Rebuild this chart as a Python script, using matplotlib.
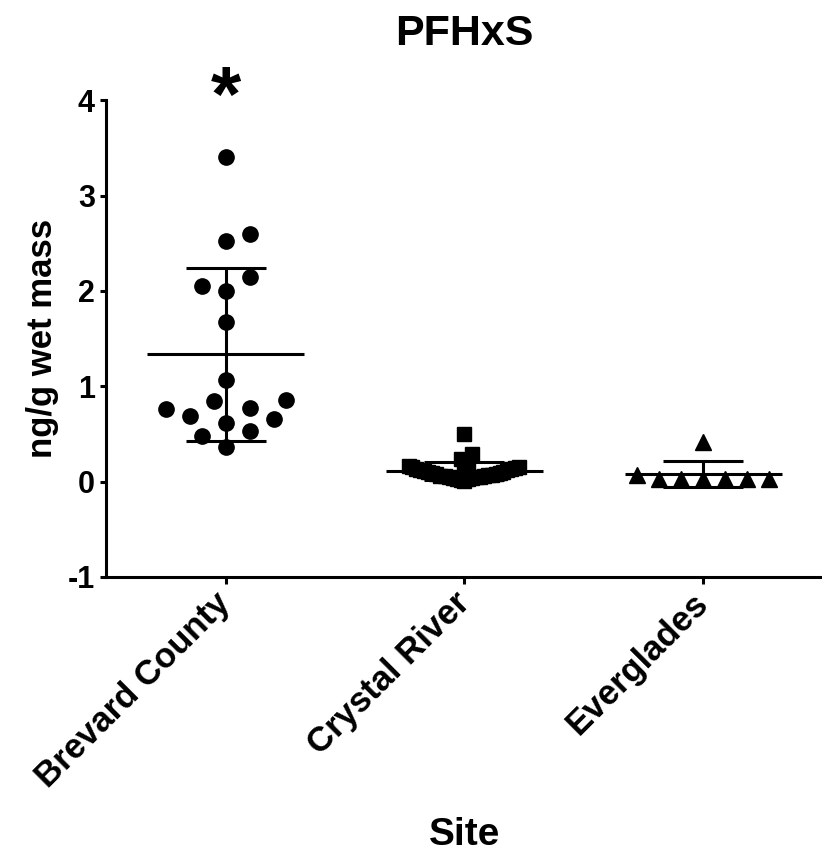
import numpy as np
import matplotlib
matplotlib.use("Agg")
import matplotlib.pyplot as plt

plt.rcParams['font.family'] = ['Liberation Sans', 'DejaVu Sans']
plt.rcParams['font.weight'] = 'bold'
plt.rcParams['axes.unicode_minus'] = False

sites = ['Brevard County', 'Crystal River', 'Everglades']
markers = ['o', 's', '^']

brevard = [3.40, 2.60, 2.52, 2.15, 2.00, 2.05, 1.67, 1.07, 0.84, 0.86,
           0.76, 0.77, 0.66, 0.69, 0.61, 0.53, 0.48, 0.36]
crystal = [0.50, 0.29, 0.24, 0.20, 0.18, 0.16, 0.15, 0.15, 0.14, 0.13,
           0.13, 0.12, 0.12, 0.11, 0.10, 0.10, 0.09, 0.09, 0.08, 0.08,
           0.07, 0.07, 0.06, 0.06, 0.06, 0.05, 0.05, 0.05, 0.04, 0.04,
           0.03, 0.03, 0.02, 0.01]
everglades = [0.42, 0.07, 0.03, 0.03, 0.03, 0.03, 0.03, 0.03]
groups = [brevard, crystal, everglades]


def swarm(ax, x0, vals, wx, wy, step, left_first):
    # greedy beeswarm in pixel space, elliptical keep-out zone
    vals = np.asarray(vals)
    order = np.argsort(vals, kind='stable')
    placed = []
    xs = np.zeros(len(vals))
    cx, _ = ax.transData.transform((x0, 0))
    inv = ax.transData.inverted()
    for n, i in enumerate(order):
        _, py = ax.transData.transform((x0, vals[i]))
        k = 0
        off = None
        while off is None:
            if k == 0:
                cands = [0]
            elif (n % 2) == left_first:
                cands = [-k * step, k * step]
            else:
                cands = [k * step, -k * step]
            for c in cands:
                if all(((cx + c - px) / wx) ** 2 + ((py - qy) / wy) ** 2 >= 1
                       for px, qy in placed):
                    off = c
                    break
            k += 1
        placed.append((cx + off, py))
        xs[i] = inv.transform((cx + off, py))[0]
    return xs


fig = plt.figure(figsize=(8.22, 8.56), dpi=100)
ax = fig.add_axes([0.129, 0.326, 0.872, 0.557])
ax.set_xlim(-0.5, 2.5)
ax.set_ylim(-1, 4)

params = [(22, 22, 12, 1), (3.9, 16, 1.3, 1), (22, 22, 11, 0)]
sizes = [11, 10.5, 12]
for i, (vals, m) in enumerate(zip(groups, markers)):
    xs = swarm(ax, i, vals, *params[i])
    ax.plot(xs, vals, ls='none', marker=m, ms=sizes[i], color='black', mec='black', zorder=3)
    mean = np.mean(vals)
    sd = np.std(vals, ddof=1)
    ax.hlines(mean, i - 0.33, i + 0.33, color='black', lw=2.2, zorder=4)
    ax.errorbar(i, mean, yerr=sd, fmt='none', ecolor='black', elinewidth=2.2,
                capsize=28.5, capthick=2.2, zorder=4)

ax.text(0, 3.78, '*', ha='center', va='baseline', fontsize=56, fontweight='bold')

for s in ['top', 'right']:
    ax.spines[s].set_visible(False)
for s in ['left', 'bottom']:
    ax.spines[s].set_linewidth(2.2)

ax.set_yticks([-1, 0, 1, 2, 3, 4])
ax.tick_params(axis='y', labelsize=22, width=2.2, length=4, pad=4)
ax.tick_params(axis='x', labelsize=25, width=2.2, length=5, pad=10)
ax.set_xticks(range(3))
ax.set_xticklabels(sites, rotation=45, ha='right', va='center', rotation_mode='anchor')
for lbl in ax.get_yticklabels() + ax.get_xticklabels():
    lbl.set_fontweight('bold')

ax.set_ylabel('ng/g wet mass', fontsize=25, fontweight='bold', labelpad=6)
ax.set_title('PFHxS', fontsize=31, fontweight='bold', pad=40)
fig.text(465 / 822, 1 - 835 / 856, 'Site', ha='center', va='center', fontsize=28, fontweight='bold')

fig.savefig('out.png', dpi=100)
